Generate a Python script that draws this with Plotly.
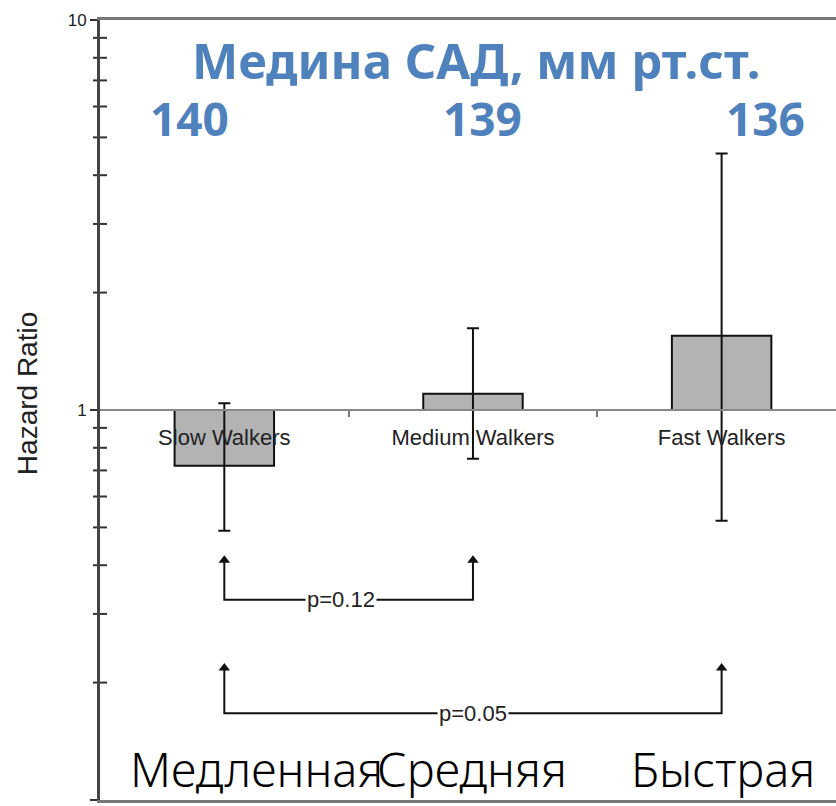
import numpy as np
import plotly.graph_objects as go

# Walking-speed groups and hazard ratios with 95% CI
categories = ["Slow Walkers", "Medium Walkers", "Fast Walkers"]
hazard_ratio = [0.72, 1.10, 1.55]
ci_low = [0.49, 0.75, 0.52]
ci_high = [1.04, 1.62, 4.55]

# Median systolic blood pressure per group
median_sbp = [140, 139, 136]
speed_ru = ["Медленная", "Средняя", "Быстрая"]

# Pairwise comparisons: (group a, group b, label)
comparisons = [(0, 1, "p=0.12"), (0, 2, "p=0.05")]

BLUE = "#4f81bd"
INK = "#222222"
X_RANGE = [-0.5, 2.46]
SANS = "Liberation Sans, Arial"

fig = go.Figure()

# Bars grow from HR = 1 towards each hazard ratio
fig.add_trace(go.Bar(
    x=list(range(len(categories))),
    y=[h - 1 for h in hazard_ratio],
    base=[1] * len(categories),
    width=0.4,
    marker=dict(color="#b3b3b3", line=dict(color="#111111", width=2)),
    showlegend=False, hoverinfo="skip",
))

# Confidence intervals
fig.add_trace(go.Scatter(
    x=list(range(len(categories))), y=hazard_ratio,
    mode="markers", marker=dict(size=1, color="rgba(0,0,0,0)"),
    error_y=dict(type="data", symmetric=False,
                 array=[hi - h for hi, h in zip(ci_high, hazard_ratio)],
                 arrayminus=[h - lo for lo, h in zip(ci_low, hazard_ratio)],
                 color="#111111", thickness=2, width=6),
    showlegend=False, hoverinfo="skip",
))

# Minor ticks crossing the y axis
minor_vals = [m * d for d in (0.1, 1) for m in range(2, 10)]
fig.add_trace(go.Scatter(
    x=[X_RANGE[0]] * len(minor_vals), y=minor_vals, mode="markers",
    marker=dict(symbol="line-ew", size=10, line=dict(width=2, color="#333333")),
    cliponaxis=False, showlegend=False, hoverinfo="skip",
))

# Comparison brackets with arrows
bracket_levels = [(0.326, 0.412), (0.167, 0.218)]
label_pos = [0.47, 1.0]
for (a, b, label), (base_y, tip_y), lx in zip(comparisons, bracket_levels, label_pos):
    fig.add_trace(go.Scatter(
        x=[a, a, b, b], y=[tip_y, base_y, base_y, tip_y], mode="lines",
        line=dict(color="#111111", width=2),
        showlegend=False, hoverinfo="skip",
    ))
    fig.add_trace(go.Scatter(
        x=[a, b], y=[tip_y, tip_y], mode="markers",
        marker=dict(symbol="triangle-up", size=10, color="#111111"),
        showlegend=False, hoverinfo="skip",
    ))
    fig.add_annotation(
        x=lx, y=np.log10(base_y), xref="x", yref="y", text=label,
        showarrow=False, bgcolor="white", borderpad=1,
        xanchor="center", yanchor="middle",
        font=dict(family=SANS, size=22, color=INK),
    )

# Helper trace for the HR = 1 reference axis
fig.add_trace(go.Scatter(
    x=[0, 1, 2], y=[1, 1, 1], xaxis="x2", mode="none",
    showlegend=False, hoverinfo="skip",
))

# Blue header: median SBP
fig.add_annotation(
    x=0.511, y=0.949, xref="paper", yref="paper",
    xanchor="center", yanchor="middle",
    text="<b>Медина САД, мм рт.ст.</b>", showarrow=False,
    font=dict(family="Noto Sans", size=49, color=BLUE),
)
for xp, v in zip([0.121, 0.520, 0.904], median_sbp):
    fig.add_annotation(
        x=xp, y=0.874, xref="paper", yref="paper", text=f"<b>{v}</b>",
        xanchor="center", yanchor="middle",
        showarrow=False, font=dict(family="Noto Sans", size=46, color=BLUE),
    )

# Russian speed labels along the bottom
for xp, t in zip([0.213, 0.506, 0.846], speed_ru):
    fig.add_annotation(
        x=xp, y=0.040, xref="paper", yref="paper", text=t,
        xanchor="center", yanchor="middle",
        showarrow=False,
        font=dict(family="Noto Sans", size=47, color="#000000", weight=300),
    )

# Y-axis title
fig.add_annotation(
    x=-0.099, y=0.5205, xref="paper", yref="paper", text="Hazard Ratio",
    textangle=-90, showarrow=False, xanchor="center", yanchor="middle",
    font=dict(family=SANS, size=28, color=INK),
)

fig.update_layout(
    width=836, height=806,
    margin=dict(l=100, r=0, t=20, b=6),
    plot_bgcolor="white", paper_bgcolor="white",
    showlegend=False,
    xaxis=dict(range=X_RANGE, showgrid=False, zeroline=False,
               showticklabels=False, ticks="",
               showline=True, linecolor="#777777", linewidth=3, mirror=True),
    xaxis2=dict(range=X_RANGE, overlaying="x", anchor="free", position=0.5,
                showgrid=False, zeroline=False,
                showline=True, linecolor="#888888", linewidth=2,
                tickvals=[0, 1, 2], ticktext=categories, ticks="",
                ticklabelstandoff=8,
                tickfont=dict(family=SANS, size=22, color=INK),
                minor=dict(tickvals=[0.5, 1.5], ticks="outside", ticklen=6,
                           tickwidth=2, tickcolor="#777777")),
    yaxis=dict(type="log", range=[-1, 1], showgrid=False, zeroline=False,
               tickvals=[0.1, 1, 10], ticktext=["0.1", "1", "10"],
               ticks="outside", ticklen=7, tickwidth=2, tickcolor="#333333",
               showline=True, linecolor="#444444", linewidth=3,
               tickfont=dict(family=SANS, size=17, color=INK)),
)

fig.write_html("out.html")
